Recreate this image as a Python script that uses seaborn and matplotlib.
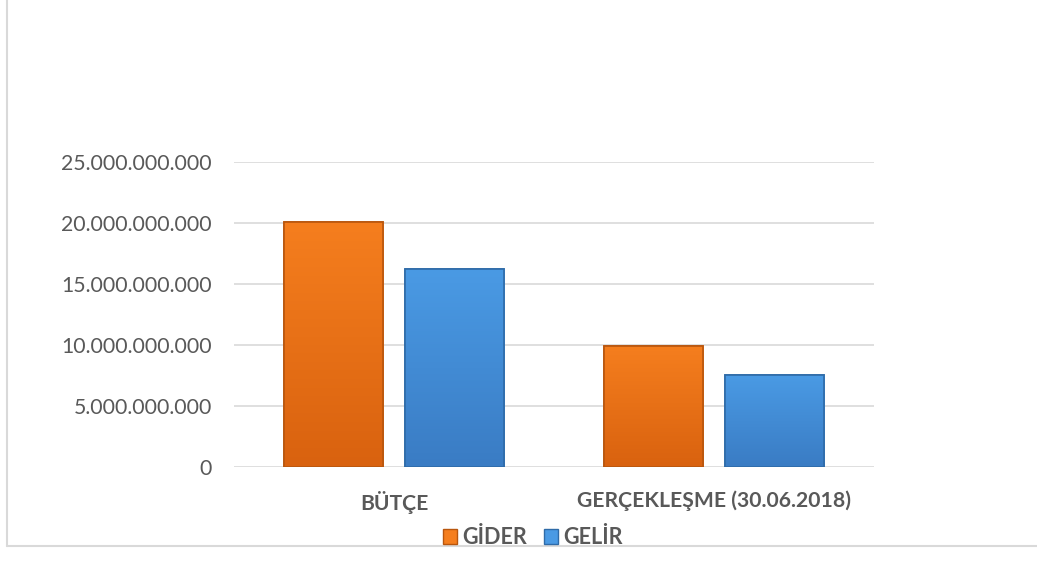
import matplotlib
matplotlib.use("Agg")
import matplotlib.pyplot as plt
import matplotlib.ticker as mticker
from matplotlib.patches import Rectangle
from matplotlib.lines import Line2D
from matplotlib.colors import LinearSegmentedColormap
import numpy as np
import pandas as pd
import seaborn as sns

# Data (TL)
categories = ["BÜTÇE", "GERÇEKLEŞME (30.06.2018)"]
series = ["GİDER", "GELİR"]
gider = [20_050_000_000, 9_900_000_000]
gelir = [16_200_000_000, 7_530_000_000]

colors = {"GİDER": "#F57E1E", "GELİR": "#4A9AE4"}
dark = {"GİDER": "#D9620F", "GELİR": "#3A7CC4"}
edges = {"GİDER": "#B8560E", "GELİR": "#2F6BA8"}

df = pd.DataFrame({
    "Kategori": categories * 2,
    "Seri": [series[0]] * 2 + [series[1]] * 2,
    "Tutar": gider + gelir,
})

sns.set_theme(style="white")
plt.rcParams["font.family"] = ["Lato", "DejaVu Sans"]

fig = plt.figure(figsize=(10.37, 5.70), dpi=100)
ax = fig.add_axes([0.2257, 0.1807, 0.6171, 0.5351])

sns.barplot(
    data=df,
    x="Kategori",
    y="Tutar",
    hue="Seri",
    hue_order=series,
    palette=colors,
    saturation=1,
    width=0.76,
    gap=0.184,
    ax=ax,
    legend=False,
)

ax.set_ylim(0, 25_000_000_000)
ax.set_xlim(-0.5, 1.5)

# vertical shading inside each bar, edges a bit darker
grad = np.linspace(0, 1, 100).reshape(-1, 1)
for cont, name in zip(ax.containers, series):
    cmap = LinearSegmentedColormap.from_list(name, [dark[name], colors[name]])
    for bar in cont:
        bar.set_edgecolor(edges[name])
        bar.set_linewidth(1.2)
        x0, y0 = bar.get_x(), bar.get_y()
        img = ax.imshow(grad, cmap=cmap, origin="lower", aspect="auto",
                        extent=(x0, x0 + bar.get_width(), y0, y0 + bar.get_height()),
                        zorder=bar.get_zorder() + 0.1)
        img.set_clip_path(bar)
        ax.add_patch(Rectangle((x0, y0), bar.get_width(), bar.get_height(),
                               fill=False, edgecolor=edges[name], linewidth=1.2,
                               zorder=bar.get_zorder() + 0.2))

ax.set_ylim(0, 25_000_000_000)
ax.set_xlim(-0.5, 1.5)
ax.yaxis.set_major_locator(mticker.MultipleLocator(5_000_000_000))
ax.yaxis.set_major_formatter(
    mticker.FuncFormatter(lambda v, p: f"{v:,.0f}".replace(",", "."))
)

ax.grid(axis="y", color="#d9d9d9", linewidth=1.2)
ax.set_axisbelow(True)
for s in ax.spines.values():
    s.set_visible(False)

ax.set_xlabel("")
ax.set_ylabel("")
ax.tick_params(axis="y", length=0, pad=16, labelsize=15.3, labelcolor="#595959")
ax.tick_params(axis="x", length=0, pad=17, labelsize=15.2, labelcolor="#595959")
for t in ax.get_xticklabels():
    t.set_fontweight("bold")

handles = [
    Rectangle((0, 0), 1, 1, facecolor=colors[n], edgecolor=edges[n], linewidth=1)
    for n in series
]
fig.legend(
    handles,
    series,
    loc="center",
    bbox_to_anchor=(0.514, 0.057),
    ncol=2,
    frameon=False,
    handlelength=0.65,
    handleheight=0.65,
    handletextpad=0.25,
    columnspacing=0.8,
    prop={"weight": "bold", "size": 15.5},
    labelcolor="#595959",
)

# outer chart border (only left and bottom visible)
fig.add_artist(Line2D([0.0068, 0.0068], [0.042, 1.0], transform=fig.transFigure,
                      color="#d9d9d9", linewidth=1.5))
fig.add_artist(Line2D([0.0068, 1.0], [0.042, 0.042], transform=fig.transFigure,
                      color="#d9d9d9", linewidth=1.5))

fig.savefig("out.png", dpi=100, facecolor="white")
